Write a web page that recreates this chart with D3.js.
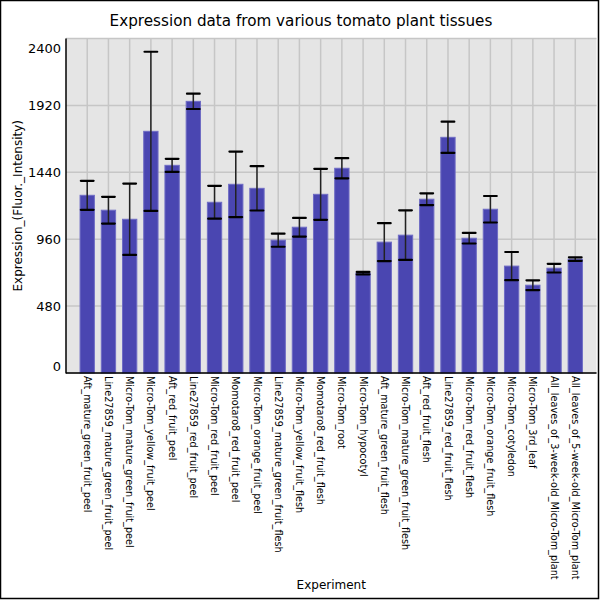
<!DOCTYPE html>
<html>
<head>
<meta charset="utf-8">
<script src="https://cdn.jsdelivr.net/npm/d3@7"></script>
<style>
  html, body { margin: 0; padding: 0; background: #fff; }
  svg { display: block; font-family: 'DejaVu Sans', sans-serif; }
</style>
</head>
<body>
<div id="chart"></div>
<script>
const categories = [
  'Aft_mature_green_fruit_peel',
  'Line27859_mature_green_fruit_peel',
  'Micro-Tom_mature_green_fruit_peel',
  'Micro-Tom_yellow_fruit_peel',
  'Aft_red_fruit_peel',
  'Line27859_red_fruit_peel',
  'Micro-Tom_red_fruit_peel',
  'Momotaro8_red_fruit_peel',
  'Micro-Tom_orange_fruit_peel',
  'Line27859_mature_green_fruit_flesh',
  'Micro-Tom_yellow_fruit_flesh',
  'Momotaro8_red_fruit_flesh',
  'Micro-Tom_root',
  'Micro-Tom_hypocotyl',
  'Aft_mature_green_fruit_flesh',
  'Micro-Tom_mature_green_fruit_flesh',
  'Aft_red_fruit_flesh',
  'Line27859_red_fruit_flesh',
  'Micro-Tom_red_fruit_flesh',
  'Micro-Tom_orange_fruit_flesh',
  'Micro-Tom_cotyledon',
  'Micro-Tom_3rd_leaf',
  'All_leaves_of_3-week-old_Micro-Tom_plant',
  'All_leaves_of_5-week-old_Micro-Tom_plant',
]

const means = [1275, 1168, 1103, 1734, 1490, 1949, 1225, 1354, 1325, 953, 1046, 1282,
  1469, 716, 939, 989, 1247, 1691, 967, 1175, 767, 630, 752, 817]

const errors = [104, 96, 256, 571, 47, 55, 118, 235, 159, 47, 67, 183,
  72, 9, 136, 178, 42, 112, 38, 95, 101, 35, 31, 13]

const yTicks = [0, 480, 960, 1440, 1920, 2400]

const title = 'Expression data from various tomato plant tissues'
const xTitle = 'Experiment'
const yTitle = 'Expression_(Fluor._Intensity)'

const width = 600
const height = 600
const plot = { left: 66, right: 596.5, top: 38.5, bottom: 373 }

const svg = d3.select('#chart').append('svg')
  .attr('width', width)
  .attr('height', height)

const data = categories.map((c, i) => ({ name: c, mean: means[i], err: errors[i] }))

const x = d3.scalePoint()
  .domain(categories)
  .range([plot.left, plot.right])
  .padding(1)

const y = d3.scaleLinear()
  .domain([0, 2400])
  .range([plot.bottom, plot.top])

const barW = x.step() * 0.675
const capW = x.step() * 0.6

// plot background
svg.append('rect')
  .attr('x', plot.left)
  .attr('y', plot.top)
  .attr('width', plot.right - plot.left)
  .attr('height', plot.bottom - plot.top)
  .attr('fill', '#e5e5e5')

// grid
const grid = svg.append('g')
  .attr('stroke', '#c6c6c6')
  .attr('stroke-width', 1.5)

grid.selectAll('line.h')
  .data(yTicks)
  .join('line')
  .attr('class', 'h')
  .attr('x1', plot.left)
  .attr('x2', plot.right)
  .attr('y1', d => y(d))
  .attr('y2', d => y(d))

grid.selectAll('line.v')
  .data(categories)
  .join('line')
  .attr('class', 'v')
  .attr('x1', d => x(d))
  .attr('x2', d => x(d))
  .attr('y1', plot.top)
  .attr('y2', plot.bottom)

// bars
svg.append('g')
  .selectAll('rect')
  .data(data)
  .join('rect')
  .attr('x', d => x(d.name) - barW / 2)
  .attr('y', d => y(d.mean))
  .attr('width', barW)
  .attr('height', d => y(0) - y(d.mean))
  .attr('fill', '#4a46b1')
  .attr('stroke', '#6f6cc4')
  .attr('stroke-width', 1)

// error bars
const eb = svg.append('g')

eb.selectAll('line.stem')
  .data(data)
  .join('line')
  .attr('class', 'stem')
  .attr('x1', d => x(d.name))
  .attr('x2', d => x(d.name))
  .attr('y1', d => y(d.mean + d.err))
  .attr('y2', d => y(d.mean - d.err))
  .attr('stroke', '#222')
  .attr('stroke-width', 1.5)

eb.selectAll('line.cap')
  .data(data.flatMap(d => [
    { name: d.name, v: d.mean + d.err },
    { name: d.name, v: d.mean - d.err },
  ]))
  .join('line')
  .attr('class', 'cap')
  .attr('x1', d => x(d.name) - capW / 2)
  .attr('x2', d => x(d.name) + capW / 2)
  .attr('y1', d => y(d.v))
  .attr('y2', d => y(d.v))
  .attr('stroke', '#000')
  .attr('stroke-width', 2.2)
  .attr('stroke-linecap', 'round')

// y axis labels (end labels kept inside the plot)
svg.append('g')
  .selectAll('text')
  .data(yTicks)
  .join('text')
  .attr('x', plot.left - 5)
  .attr('y', d => Math.min(Math.max(y(d), plot.top + 9.5), plot.bottom - 6.5))
  .attr('dy', '0.35em')
  .attr('text-anchor', 'end')
  .attr('font-size', 13)
  .attr('fill', '#000')
  .text(d => d)

// x axis labels
svg.append('g')
  .selectAll('text')
  .data(categories)
  .join('text')
  .attr('transform', d => `translate(${x(d)},${plot.bottom + 3}) rotate(90)`)
  .attr('dy', '0.35em')
  .attr('font-size', 9.7)
  .attr('fill', '#000')
  .text(d => d)

// axis lines
svg.append('line')
  .attr('x1', plot.left).attr('x2', plot.left)
  .attr('y1', plot.top).attr('y2', plot.bottom + 0.5)
  .attr('stroke', '#000').attr('stroke-width', 1.5)

svg.append('line')
  .attr('x1', plot.left).attr('x2', plot.right)
  .attr('y1', plot.bottom).attr('y2', plot.bottom)
  .attr('stroke', '#000').attr('stroke-width', 1.5)

// titles
svg.append('text')
  .attr('x', 301)
  .attr('y', 26)
  .attr('text-anchor', 'middle')
  .attr('font-size', 15.2)
  .text(title)

svg.append('text')
  .attr('x', (plot.left + plot.right) / 2)
  .attr('y', 589)
  .attr('text-anchor', 'middle')
  .attr('font-size', 12)
  .text(xTitle)

svg.append('text')
  .attr('transform', `translate(22,${(plot.top + plot.bottom) / 2}) rotate(-90)`)
  .attr('text-anchor', 'middle')
  .attr('font-size', 12)
  .text(yTitle)

// outer frame
svg.append('rect')
  .attr('x', 0.5)
  .attr('y', 0.5)
  .attr('width', 598)
  .attr('height', 598)
  .attr('fill', 'none')
  .attr('stroke', '#000')
  .attr('stroke-width', 1.5)
</script>
</body>
</html>
